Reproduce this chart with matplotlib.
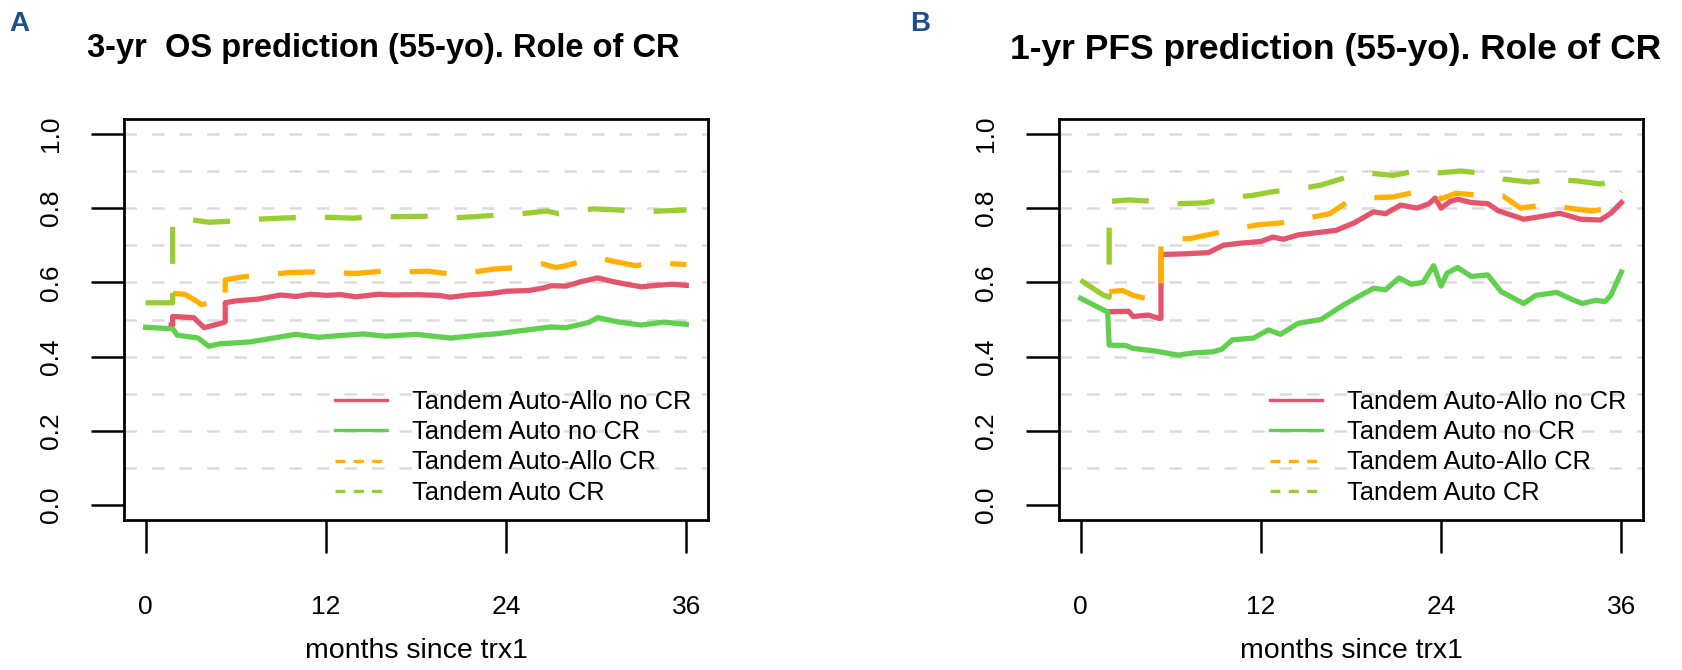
import numpy as np
import matplotlib.pyplot as plt
from matplotlib.lines import Line2D

plt.rcParams['font.family'] = ['Liberation Sans', 'DejaVu Sans']

# Panel A - 3-yr OS
os_months_allo_nocr = [1.7, 1.8, 1.8, 3.2, 3.9, 4.3, 5.2, 5.3, 5.3, 6.0, 7.5, 9.0, 10.0, 11.0, 12.0, 13.0, 14.0,
                       15.5, 16.5, 18.0, 19.5, 20.3, 21.5, 23.0, 24.0, 25.5, 26.5, 27.0, 28.0, 29.0, 30.1, 31.0,
                       32.0, 33.0, 34.0, 35.0, 36.0]
os_allo_nocr = [0.485, 0.485, 0.508, 0.505, 0.478, 0.482, 0.492, 0.494, 0.545, 0.550, 0.555, 0.566, 0.562, 0.568,
                0.565, 0.567, 0.561, 0.568, 0.566, 0.567, 0.565, 0.560, 0.566, 0.570, 0.576, 0.578, 0.585, 0.591,
                0.590, 0.602, 0.612, 0.603, 0.595, 0.588, 0.592, 0.595, 0.592]

os_months_auto_nocr = [0, 1.8, 2.1, 3.5, 4.2, 5.0, 6.0, 7.0, 8.5, 10.0, 11.5, 13.0, 14.5, 16.0, 18.0, 20.3, 22.0,
                       23.5, 25.0, 27.0, 28.0, 29.5, 30.1, 31.5, 33.0, 34.5, 36.0]
os_auto_nocr = [0.479, 0.475, 0.458, 0.450, 0.428, 0.435, 0.437, 0.440, 0.450, 0.460, 0.452, 0.457, 0.461, 0.455,
                0.460, 0.450, 0.457, 0.462, 0.470, 0.480, 0.478, 0.492, 0.505, 0.493, 0.485, 0.493, 0.487]

os_months_allo_cr = [1.8, 2.6, 3.3, 3.7, 4.4, 5.3, 5.3, 6.5, 8.0, 9.4, 10.9, 12.5, 14.0, 15.7, 17.0, 18.8, 20.2,
                     21.9, 23.2, 24.9, 26.4, 27.3, 28.0, 29.5, 30.3, 31.0, 32.6, 33.4, 34.2, 36.0]
os_allo_cr = [0.570, 0.568, 0.552, 0.540, 0.545, 0.545, 0.607, 0.615, 0.620, 0.626, 0.628, 0.626, 0.624, 0.630,
              0.628, 0.630, 0.623, 0.628, 0.636, 0.640, 0.650, 0.640, 0.645, 0.662, 0.665, 0.658, 0.645, 0.650,
              0.652, 0.648]

os_months_auto_cr = [0, 1.8, 1.8, 2.8, 4.2, 5.9, 7.3, 9.0, 10.5, 12.3, 13.8, 15.5, 17.0, 18.7, 20.2, 21.9, 23.4,
                     25.0, 26.7, 27.5, 28.2, 29.8, 31.5, 33.0, 34.7, 36.0]
os_auto_cr = [0.545, 0.545, 0.772, 0.770, 0.762, 0.765, 0.770, 0.773, 0.775, 0.775, 0.773, 0.777, 0.777, 0.778,
              0.773, 0.777, 0.781, 0.785, 0.792, 0.785, 0.789, 0.798, 0.795, 0.790, 0.793, 0.795]

# Panel B - 1-yr PFS
pfs_months_allo_nocr = [1.9, 3.2, 3.5, 4.5, 5.2, 5.35, 5.35, 7.0, 8.5, 9.5, 10.5, 12.0, 12.8, 13.5, 14.5, 16.0,
                        17.0, 18.2, 19.5, 20.3, 21.3, 22.4, 23.2, 23.6, 24.0, 24.6, 25.1, 26.0, 27.1, 27.8, 29.5,
                        30.3, 31.9, 33.3, 34.6, 35.3, 36.0]
pfs_allo_nocr = [0.521, 0.522, 0.508, 0.512, 0.503, 0.503, 0.675, 0.677, 0.680, 0.700, 0.705, 0.710, 0.722, 0.716,
                 0.728, 0.735, 0.740, 0.760, 0.790, 0.785, 0.808, 0.800, 0.812, 0.827, 0.800, 0.818, 0.824, 0.815,
                 0.812, 0.793, 0.770, 0.775, 0.786, 0.770, 0.768, 0.786, 0.815]

pfs_months_auto_nocr = [0, 1.8, 1.9, 3.0, 3.5, 5.0, 6.5, 7.5, 8.8, 9.4, 10.1, 11.5, 12.5, 13.3, 14.5, 16.0, 17.5,
                        18.5, 19.5, 20.3, 21.2, 22.0, 22.8, 23.5, 24.0, 24.4, 25.1, 26.0, 27.1, 28.0, 29.5, 30.3,
                        31.7, 32.6, 33.4, 34.3, 34.9, 35.3, 36.0]
pfs_auto_nocr = [0.557, 0.520, 0.431, 0.430, 0.422, 0.415, 0.404, 0.410, 0.413, 0.420, 0.445, 0.450, 0.472, 0.460,
                 0.490, 0.500, 0.539, 0.562, 0.584, 0.580, 0.612, 0.595, 0.600, 0.645, 0.590, 0.625, 0.640, 0.616,
                 0.620, 0.575, 0.543, 0.565, 0.573, 0.556, 0.543, 0.552, 0.548, 0.565, 0.628]

pfs_months_allo_cr = [1.9, 2.8, 3.5, 4.5, 5.35, 5.35, 7.3, 8.7, 10.4, 11.8, 13.3, 14.7, 16.6, 17.7, 19.4, 20.8,
                      22.5, 23.6, 24.0, 25.0, 26.4, 28.1, 29.3, 31.0, 32.5, 34.0, 35.3, 36.0]
pfs_allo_cr = [0.575, 0.578, 0.565, 0.555, 0.565, 0.717, 0.718, 0.730, 0.745, 0.755, 0.760, 0.770, 0.785, 0.815,
               0.828, 0.830, 0.845, 0.838, 0.825, 0.840, 0.835, 0.833, 0.800, 0.810, 0.800, 0.792, 0.800, 0.845]

pfs_months_auto_cr = [0, 1.5, 1.9, 1.9, 3.2, 5.0, 6.5, 8.3, 9.7, 11.4, 12.9, 14.6, 16.0, 17.7, 19.1, 20.8, 22.3,
                      23.9, 25.3, 26.9, 28.2, 29.9, 31.4, 33.1, 34.6, 35.3, 36.0]
pfs_auto_cr = [0.606, 0.566, 0.560, 0.818, 0.822, 0.818, 0.812, 0.814, 0.828, 0.834, 0.845, 0.852, 0.862, 0.883,
               0.895, 0.888, 0.900, 0.895, 0.900, 0.893, 0.878, 0.870, 0.878, 0.873, 0.865, 0.870, 0.900]

labels = ['Tandem Auto-Allo no CR', 'Tandem Auto no CR', 'Tandem Auto-Allo CR', 'Tandem Auto CR']
colors = ['#E4546C', '#61D04F', '#FFB000', '#9ACD32']
styles = ['-', '-', (0, (7, 5.5)), (0, (7, 5.5))]
xticks = [0, 12, 24, 36]
yticks = [0.0, 0.2, 0.4, 0.6, 0.8, 1.0]
grid_levels = [0.1, 0.2, 0.3, 0.4, 0.5, 0.6, 0.7, 0.8, 0.9, 1.0]

panels = [
    ('A', '3-yr  OS prediction (55-yo). Role of CR',
     [(os_months_allo_nocr, os_allo_nocr), (os_months_auto_nocr, os_auto_nocr),
      (os_months_allo_cr, os_allo_cr), (os_months_auto_cr, os_auto_cr)]),
    ('B', '1-yr PFS prediction (55-yo). Role of CR',
     [(pfs_months_allo_nocr, pfs_allo_nocr), (pfs_months_auto_nocr, pfs_auto_nocr),
      (pfs_months_allo_cr, pfs_allo_cr), (pfs_months_auto_cr, pfs_auto_cr)]),
]

fig = plt.figure(figsize=(16.82, 6.70), dpi=100)
lefts = [124 / 1682, 1059 / 1682]
title_x = [383 / 1682, 1336 / 1682]
title_size = [23.5, 25.5]
letter_x = [19 / 1682, 920 / 1682]

for i, (letter, title, series) in enumerate(panels):
    ax = fig.add_axes([lefts[i], 150 / 670, 584 / 1682, 401 / 670])
    ax.set_xlim(-1.44, 37.44)
    ax.set_ylim(-0.04, 1.04)
    ax.hlines(grid_levels, -1.44, 37.44, colors='#dcdcdc', linewidth=1.8,
              linestyles=(0, (5, 6)), zorder=1)
    for (mx, vals), c, ls in zip(series, colors, styles):
        ax.plot(mx, vals, color=c, linestyle=ls, linewidth=3.8, zorder=3)

    ax.set_xticks(xticks)
    ax.set_xticklabels([str(t) for t in xticks])
    ax.set_yticks(yticks)
    ax.set_yticklabels(['%.1f' % t for t in yticks], rotation=90, va='center')
    ax.tick_params(axis='both', direction='out', length=24, width=1.8, labelsize=19)
    ax.tick_params(axis='x', pad=30)
    ax.tick_params(axis='y', pad=20)
    for s in ax.spines.values():
        s.set_linewidth(2)
    ax.set_xlabel('months since trx1', fontsize=20.5, labelpad=14)

    handles = [Line2D([0], [0], color=c, linestyle=ls if ls == '-' else (0, (3, 2.5)), linewidth=2.4)
               for c, ls in zip(colors, styles)]
    ax.legend(handles, labels, loc='upper left', bbox_to_anchor=(0.362, 0.325), frameon=False,
              fontsize=18.4, handlelength=2.0, handletextpad=1.0, labelspacing=0.25,
              borderpad=0, borderaxespad=0)

    fig.text(title_x[i], 1 - 49 / 670, title, ha='center', va='center', fontsize=title_size[i],
             fontweight='bold')
    fig.text(letter_x[i], 1 - 24 / 670, letter, ha='center', va='center', fontsize=20,
             fontweight='bold', color='#1F4E8C')

fig.savefig('out.png', dpi=100)
